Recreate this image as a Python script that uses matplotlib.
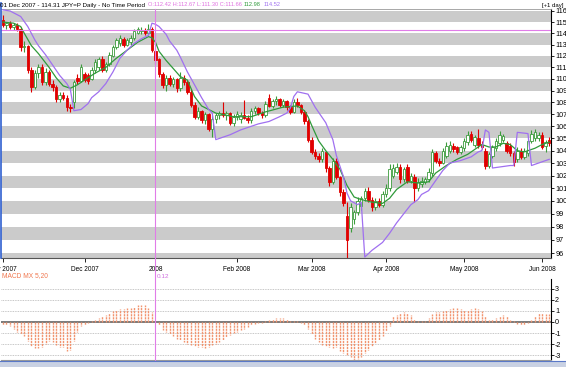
import matplotlib
matplotlib.use('Agg')
import matplotlib.pyplot as plt
import matplotlib.transforms as mtransforms
from matplotlib.lines import Line2D
from matplotlib.patches import Rectangle
from matplotlib.ticker import NullLocator
import numpy as np

plt.rcParams['font.family'] = ['Liberation Sans', 'DejaVu Sans']

# daily JPY bars, Nov 2007 - Jun 2008
opens = [115.2, 114.7, 114.9, 114.6, 114.7, 114.4, 112.8, 112.9, 110.8, 109.3,
         110.5, 111.0, 109.7, 110.6, 109.6, 109.3, 108.3, 108.6, 108.4, 107.6,
         108.0, 110.1, 109.8, 110.4, 110.3, 110.0, 110.8, 111.0, 111.7, 110.8,
         111.3, 112.0, 112.8, 113.1, 113.5, 113.0, 113.2, 113.6, 114.0, 114.2,
         114.3, 114.0, 114.4, 112.42, 111.7, 110.4, 109.5, 110.1, 109.6, 110.0,
         109.2, 110.1, 109.7, 108.9, 107.8, 106.8, 107.3, 106.5, 107.0, 105.8,
         106.6, 106.9, 107.1, 106.9, 107.1, 106.3, 106.8, 106.6, 106.9, 106.7,
         106.5, 107.3, 107.5, 107.1, 106.9, 108.4, 107.7, 108.1, 108.3, 107.8,
         108.1, 107.6, 107.2, 108.0, 107.8, 107.2, 106.4, 104.9, 103.9, 103.6,
         103.3, 103.9, 102.6, 101.5, 103.2, 101.9, 100.7, 98.8, 97.9, 98.6,
         99.1, 99.6, 100.2, 100.8, 100.1, 99.5, 100.0, 99.7, 100.5, 101.0,
         102.0, 102.3, 102.7, 101.7, 102.7, 101.6, 101.9, 101.0, 101.3, 101.5,
         101.7, 102.2, 103.8, 103.2, 103.0, 103.6, 104.0, 104.4, 104.3, 103.9,
         104.2, 104.7, 105.4, 104.5, 105.0, 104.5, 104.0, 102.8, 103.6, 104.2,
         104.6, 104.9, 104.6, 104.4, 103.8, 103.3, 104.0, 103.5, 103.8, 104.8,
         105.0, 105.0, 105.3, 104.4, 104.9]
highs = [115.6, 115.0, 115.1, 114.9, 114.9, 114.6, 113.3, 113.0, 111.0, 110.8,
         111.3, 111.3, 110.9, 110.8, 109.9, 109.5, 108.9, 108.9, 108.6, 107.9,
         109.9, 110.4, 111.3, 110.6, 110.5, 111.0, 111.7, 111.9, 112.0, 111.5,
         112.3, 113.0, 113.6, 113.8, 113.7, 113.6, 113.8, 114.4, 114.6, 114.6,
         114.5, 114.8, 114.6, 112.67, 111.8, 110.6, 110.3, 110.3, 110.2, 110.1,
         110.6, 110.3, 109.9, 109.1, 108.0, 107.6, 107.4, 107.2, 107.1, 106.9,
         107.1, 107.3, 108.0, 107.3, 107.2, 107.0, 107.3, 107.2, 108.2, 106.9,
         107.5, 107.7, 107.6, 107.3, 108.1, 108.7, 108.3, 108.5, 108.4, 108.3,
         108.2, 107.8, 108.3, 108.4, 107.9, 107.4, 106.6, 105.1, 104.1, 103.8,
         104.2, 104.0, 102.8, 103.4, 103.4, 102.0, 100.9, 99.9, 99.8, 99.3,
         100.3, 100.4, 101.0, 101.1, 100.3, 100.2, 100.2, 100.8, 101.3, 102.9,
         102.9, 103.0, 102.9, 102.7, 102.9, 102.2, 102.1, 101.8, 101.9, 101.9,
         102.6, 104.1, 104.0, 103.4, 104.2, 104.7, 104.8, 104.6, 104.4, 104.5,
         105.0, 105.6, 105.6, 105.3, 105.8, 104.8, 104.2, 103.9, 104.5, 105.0,
         105.6, 105.4, 104.8, 104.6, 104.0, 104.3, 104.2, 104.2, 105.0, 105.7,
         105.8, 105.5, 105.5, 104.9, 105.1]
lows = [114.6, 114.4, 114.4, 114.3, 114.2, 112.4, 112.3, 110.5, 108.9, 109.1,
        110.1, 109.5, 109.5, 109.4, 109.0, 108.0, 108.0, 108.2, 107.3, 107.2,
        107.5, 109.6, 109.7, 109.7, 109.6, 109.9, 110.5, 110.8, 110.6, 110.6,
        111.1, 111.9, 112.6, 112.9, 112.8, 112.9, 113.0, 113.4, 113.9, 113.9,
        113.8, 113.8, 112.3, 111.30, 110.2, 109.2, 109.0, 109.4, 109.3, 108.9,
        109.0, 109.5, 108.7, 107.6, 106.6, 106.6, 106.3, 106.2, 105.6, 105.1,
        106.3, 106.6, 106.8, 106.5, 106.1, 106.0, 106.5, 106.3, 106.6, 106.3,
        106.3, 107.0, 106.9, 106.7, 106.8, 107.6, 107.5, 107.8, 107.6, 107.6,
        107.4, 107.0, 107.1, 107.6, 107.0, 106.2, 104.7, 103.7, 103.3, 103.1,
        103.1, 102.3, 101.2, 101.3, 101.7, 100.4, 99.6, 95.6, 97.6, 98.2,
        98.9, 99.3, 100.0, 99.9, 99.2, 99.3, 99.5, 99.5, 100.3, 100.8,
        101.8, 102.1, 101.4, 101.5, 101.4, 101.4, 99.9, 100.8, 101.1, 101.3,
        101.5, 102.0, 103.0, 102.8, 102.9, 103.4, 103.8, 103.9, 103.7, 103.7,
        104.0, 104.5, 104.7, 104.3, 104.2, 104.1, 102.5, 102.6, 103.4, 104.0,
        104.4, 104.7, 103.8, 103.6, 102.8, 103.1, 103.3, 103.3, 103.6, 104.6,
        104.8, 104.8, 104.1, 103.9, 104.4]
closes = [114.7, 114.9, 114.6, 114.7, 114.4, 112.8, 112.9, 110.8, 109.3, 110.5,
          111.0, 109.7, 110.6, 109.6, 109.3, 108.3, 108.6, 108.4, 107.6, 107.5,
          109.7, 109.8, 111.0, 109.9, 109.8, 110.8, 111.5, 111.7, 110.8, 111.3,
          112.1, 112.8, 113.4, 113.6, 113.0, 113.4, 113.6, 114.2, 114.4, 114.3,
          114.0, 114.4, 112.5, 111.66, 110.4, 109.5, 110.1, 109.6, 110.0, 109.2,
          110.1, 109.7, 108.9, 107.8, 106.8, 107.3, 106.5, 107.0, 105.8, 106.6,
          106.9, 107.1, 106.9, 107.1, 106.3, 106.8, 107.0, 106.9, 106.7, 106.5,
          107.3, 107.5, 107.1, 106.9, 107.9, 107.7, 108.1, 108.3, 107.8, 108.1,
          107.6, 107.2, 108.0, 107.8, 107.2, 106.4, 104.9, 103.9, 103.6, 103.3,
          104.0, 102.6, 101.5, 103.2, 101.9, 100.7, 99.8, 97.0, 99.5, 99.1,
          100.0, 100.2, 100.8, 100.1, 99.5, 100.0, 99.7, 100.5, 101.0, 102.5,
          102.6, 102.7, 101.7, 102.5, 101.6, 102.0, 101.0, 101.5, 101.6, 101.7,
          102.3, 103.9, 103.2, 103.0, 104.0, 104.4, 104.5, 104.1, 103.9, 104.3,
          104.8, 105.3, 104.9, 105.1, 104.5, 104.3, 102.8, 103.7, 104.3, 104.8,
          105.3, 105.2, 104.0, 103.8, 103.1, 104.0, 103.5, 104.0, 104.8, 105.4,
          105.5, 105.3, 104.3, 104.7, 104.6]

# green moving average (bar index, value)
ma_idx = [0, 3, 5, 6, 8, 10, 11, 13, 15, 17, 19, 21, 24, 26, 29, 32, 35, 38, 41, 42,
          43, 44, 46, 48, 50, 52, 54, 56, 60, 65, 70, 74, 79, 83, 85, 86, 87, 89, 91, 93,
          95, 97, 99, 101, 104, 107, 109, 111, 114, 117, 120, 122, 125, 128, 131, 135, 137,
          139, 141, 143, 145, 147, 150, 152, 154]
ma_vals = [115.0, 114.9, 114.6, 114.0, 112.9, 112.2, 111.8, 111.0, 110.1, 109.4, 109.2,
           109.5, 110.1, 110.5, 111.0, 111.8, 112.5, 113.2, 113.7, 113.6, 113.2, 112.4,
           111.6, 110.9, 110.2, 109.9, 108.5, 107.7, 107.1, 106.8, 106.8, 107.2, 107.6,
           107.7, 107.3, 106.8, 106.1, 104.8, 104.0, 103.3, 102.5, 101.2, 100.3, 100.1,
           99.9, 99.8, 100.2, 100.9, 101.5, 101.4, 101.5, 102.2, 102.8, 103.3, 103.7,
           104.5, 104.3, 104.3, 104.6, 104.5, 104.0, 103.9, 104.2, 104.5, 104.7]

# purple trailing line (bar index, value)
stop_idx = [0, 2, 5, 7, 9, 10, 12, 14, 16, 18, 19, 20, 22, 24, 25, 27, 29, 31, 33, 35,
            37, 39, 41, 42, 43, 44, 46, 47, 49, 50, 52, 54, 56, 58, 59, 60, 61, 64, 67, 70,
            72, 75, 78, 80, 81, 82, 83, 86, 88, 91, 93, 94, 96, 97, 98, 100, 101, 102, 104,
            107, 109, 111, 113, 115, 117, 118, 120, 122, 124, 126, 129, 132, 134, 135, 136,
            137, 138, 143, 144, 145, 148, 149, 154]
stop_vals = [116.1, 116.0, 115.5, 114.6, 113.4, 112.9, 112.1, 111.2, 110.3, 109.6, 109.1,
             107.3, 107.4, 107.9, 108.4, 108.9, 109.6, 110.6, 111.8, 112.5, 113.1, 113.5,
             113.8, 114.9, 114.8, 114.6, 113.9, 113.3, 112.5, 111.9, 110.6, 109.5, 108.4,
             107.4, 107.1, 104.9, 105.0, 105.3, 105.7, 106.0, 106.2, 106.4, 106.8, 107.1,
             107.5, 108.5, 108.9, 108.7, 107.6, 106.3, 104.9, 103.6, 101.9, 100.6, 100.0,
             99.7, 99.9, 95.7, 96.2, 96.8, 97.5, 98.3, 99.0, 99.7, 100.1, 100.5, 100.8,
             101.6, 102.4, 103.0, 103.2, 103.5, 103.9, 104.0, 105.7, 105.5, 102.6, 102.8,
             102.8, 105.5, 105.4, 102.8, 103.3]

# MACD MX 5,20 histogram
macd = [-0.3, -0.3, -0.4, -0.6, -0.9, -1.1, -1.3, -1.7, -2.2, -2.4,
        -2.4, -2.3, -2.0, -1.7, -1.8, -2.1, -2.3, -2.3, -2.6, -2.5,
        -1.7, -0.9, -0.4, -0.3, -0.1, 0.05, 0.2, 0.4, 0.5, 0.6,
        0.8, 1.0, 1.1, 1.2, 1.2, 1.3, 1.3, 1.4, 1.5, 1.5,
        1.5, 1.3, 0.9, 0.12, -0.3, -0.7, -0.9, -1.1, -1.3, -1.5,
        -1.6, -1.8, -2.0, -2.1, -2.2, -2.3, -2.3, -2.4, -2.3, -2.1,
        -2.0, -1.8, -1.6, -1.4, -1.2, -1.0, -0.9, -0.7, -0.6, -0.5,
        -0.3, -0.2, -0.1, -0.05, 0.1, 0.2, 0.3, 0.4, 0.4, 0.4,
        0.3, 0.1, 0.05, 0.1, -0.1, -0.3, -0.6, -1.1, -1.5, -1.8,
        -2.1, -2.2, -2.3, -2.4, -2.3, -2.6, -2.8, -3.0, -3.2, -3.5,
        -3.4, -3.2, -2.8, -2.5, -2.2, -1.9, -1.6, -1.3, -0.8, -0.4,
        0.5, 0.6, 0.8, 0.9, 0.8, 0.6, 0.3, 0.1, 0.05, 0.1,
        0.4, 0.7, 0.9, 0.9, 1.0, 1.1, 1.2, 1.3, 1.3, 1.2,
        1.1, 1.1, 1.2, 1.3, 1.2, 1.0, 0.5, 0.2, 0.3, 0.4,
        0.5, 0.6, 0.5, 0.2, 0.1, -0.2, -0.3, -0.3, -0.1, 0.2,
        0.5, 0.8, 0.8, 0.7, 0.7]

month_pos = [0, 23, 43, 66, 87, 108, 130, 152]
month_labels = ['Nov 2007', 'Dec 2007', '2008', 'Feb 2008', 'Mar 2008',
                'Apr 2008', 'May 2008', 'Jun 2008']
price_ticks = list(range(96, 117))
macd_ticks = [3, 2, 1, 0, -1, -2, -3]

cursor_idx = 43
cursor_price = 114.31

header = [('01 Dec 2007 - 114.31 JPY=P Daily - No Time Period', 'black', 4.5),
          ('O:112.42 H:112.67 L:111.30 C:111.66', '#e070e0', 4.1),
          ('112.98', '#2f9a3a', 4.1),
          ('114.52', '#a070f0', 4.1)]

W, H = 566, 367
fig = plt.figure(figsize=(W / 100, H / 100), dpi=100)


def box(x0, y0, x1, y1):
    return [x0 / W, 1 - y1 / H, (x1 - x0) / W, (y1 - y0) / H]


ax = fig.add_axes(box(1, 9, 551, 258))
axm = fig.add_axes(box(1, 279, 551, 360))

o = np.array(opens)
h = np.array(highs)
l = np.array(lows)
c = np.array(closes)
x = np.arange(len(c))
up = c >= o

# price panel
ax.set_yscale('log')
ax.set_xlim(-0.55, 154.5)
ax.set_ylim(95.63, 116.18)
for lo in range(95, 116, 2):
    ax.axhspan(lo, lo + 1, color='#cbcbcb', lw=0, zorder=0)

red, green = '#e00000', '#3c9c3c'
wick_cols = [green if u else red for u in up]
ax.vlines(x, l, h, colors=wick_cols, lw=0.8, zorder=2)
body_h = np.maximum(np.abs(c - o), 0.06)
ax.bar(x, body_h, bottom=np.minimum(o, c), width=0.7,
       color=['white' if u else red for u in up],
       edgecolor=wick_cols, linewidth=0.6, zorder=3)

ax.plot(ma_idx, ma_vals, color='#2f9a3a', lw=0.9, zorder=4)
ax.plot(stop_idx, stop_vals, color='#a070f0', lw=0.9, zorder=4)
ax.axhline(cursor_price, color='#e07ce8', lw=0.8, zorder=5)

ax.yaxis.tick_right()
ax.set_yticks(price_ticks)
ax.set_yticklabels([str(v) for v in price_ticks])
ax.yaxis.set_minor_locator(NullLocator())
ax.tick_params(axis='y', length=2, width=0.6, labelsize=5.2, pad=1)
ax.set_xticks(month_pos)
ax.set_xticklabels(month_labels)
ax.tick_params(axis='x', length=3, width=0.6, labelsize=4.7, pad=2.5)
ax.spines['left'].set_visible(False)
ax.spines['top'].set_color('#999999')
ax.spines['top'].set_linewidth(0.6)
ax.spines['right'].set_linewidth(0.8)
ax.spines['bottom'].set_color('#555555')

# MACD panel
axm.set_xlim(-0.55, 154.5)
axm.set_ylim(-3.45, 3.9)
for v in [-3, -2, -1, 1, 2, 3]:
    axm.axhline(v, color='#b4b4b4', lw=0.6, ls=(0, (1, 1)), zorder=0)
axm.axhline(0, color='#707070', lw=1.3, zorder=1)
axm.vlines(x, 0, macd, colors='#f2946f', lw=1.0, linestyles=(0, (1.6, 0.6)), zorder=2)
axm.yaxis.tick_right()
axm.set_yticks(macd_ticks)
axm.set_yticklabels([str(v) for v in macd_ticks])
axm.tick_params(axis='y', length=2, width=0.6, labelsize=5.2, pad=1)
axm.set_xticks([])
for s in ['left', 'top']:
    axm.spines[s].set_visible(False)
axm.spines['bottom'].set_color('#999999')
axm.spines['right'].set_linewidth(0.8)

# cursor line through both panels
trans = mtransforms.blended_transform_factory(ax.transData, fig.transFigure)
fig.add_artist(Line2D([cursor_idx, cursor_idx], [1 - 9 / H, 1 - 360 / H],
                      transform=trans, color='#e07ce8', lw=0.8))

fig.text(2 / W, 1 - 276 / H, 'MACD MX 5,20', color='#f07850', fontsize=4.8, va='center')
fig.text(157 / W, 1 - 276 / H, '0.12', color='#d070e0', fontsize=4.6, va='center')

# header line, parts placed one after another
renderer = fig.canvas.get_renderer()
xpos = 0.0
for txt, col, fs in header:
    t = fig.text(xpos / W, 1 - 5 / H, txt, color=col, fontsize=fs, va='center')
    xpos = t.get_window_extent(renderer=renderer).x1 + 2.5
fig.text(564 / W, 1 - 5 / H, '[+1 day]', color='black', fontsize=4.3, va='center', ha='right')

# window edges
fig.add_artist(Line2D([0.6 / W, 0.6 / W], [1 - 3 / H, 1 - 258 / H], color='#3060d0', lw=1.2))
fig.add_artist(Rectangle((0, 0), 1, 6 / H, transform=fig.transFigure,
                         facecolor='#c9d1e3', edgecolor='none'))
fig.add_artist(Line2D([0, 1], [6 / H, 6 / H], color='#5a78c8', lw=0.8))

fig.savefig('out.png', dpi=100)
